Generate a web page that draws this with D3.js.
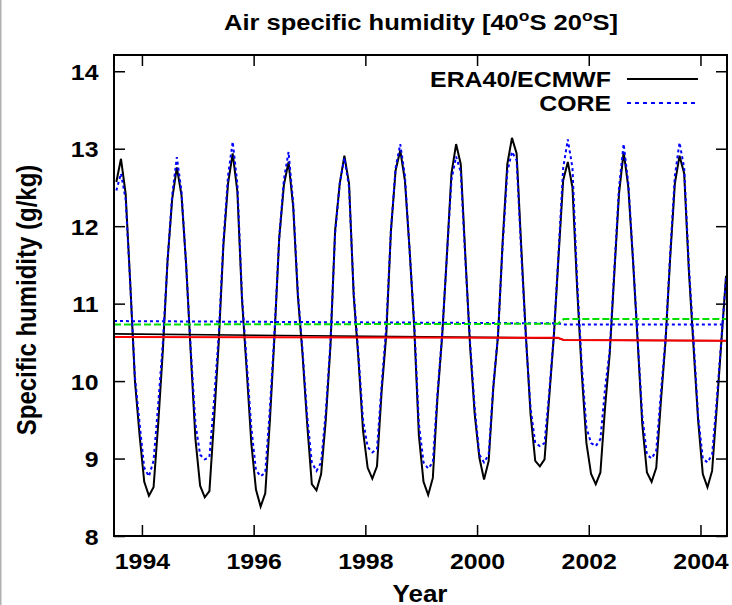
<!DOCTYPE html>
<html>
<head>
<meta charset="utf-8">
<script src="https://cdn.jsdelivr.net/npm/d3@7"></script>
<style>
  html, body { margin: 0; padding: 0; background: #fff; }
  svg { display: block; font-family: "Liberation Sans", Arial, Helvetica, sans-serif; font-weight: bold; }
</style>
</head>
<body>
<svg id="chart" width="732" height="605"></svg>
<script>
// monthly series, Jul 1993 .. Jun 2004 (one row per calendar year)
var startYear = 1993;
var startMonth = 7;

var eraValues = [
    12.57, 12.87, 12.42, 11.25, 10.00, 9.30,                                       // 1993
    8.70, 8.52, 8.63, 9.45, 10.40, 11.55, 12.35, 12.76, 12.40, 11.50, 10.35, 9.25,   // 1994
    8.65, 8.50, 8.58, 9.50, 10.50, 11.75, 12.55, 12.94, 12.45, 11.05, 10.15, 9.20,   // 1995
    8.60, 8.38, 8.55, 9.50, 10.60, 11.85, 12.53, 12.83, 12.25, 11.10, 10.35, 9.45,   // 1996
    8.67, 8.59, 8.80, 9.50, 10.45, 11.94, 12.55, 12.91, 12.55, 11.10, 10.30, 9.36,   // 1997
    8.88, 8.74, 8.90, 9.87, 10.60, 11.94, 12.72, 12.98, 12.59, 11.70, 10.70, 9.30,   // 1998
    8.70, 8.53, 8.75, 9.79, 10.58, 11.60, 12.68, 13.06, 12.80, 11.60, 10.45, 9.57,   // 1999
    9.01, 8.73, 8.97, 9.92, 10.58, 11.80, 12.80, 13.14, 12.94, 11.73, 10.58, 9.57,   // 2000
    8.97, 8.90, 8.99, 9.79, 10.58, 11.60, 12.59, 12.83, 12.50, 11.20, 10.10, 9.20,   // 2001
    8.80, 8.67, 8.82, 9.66, 10.35, 11.40, 12.42, 12.96, 12.50, 11.56, 10.52, 9.44,   // 2002
    8.82, 8.70, 8.88, 9.74, 10.52, 11.60, 12.55, 12.91, 12.68, 11.43, 10.45, 9.49,   // 2003
    8.80, 8.63, 8.84, 9.66, 10.52, 11.36                                            // 2004
];

var coreValues = [
    12.46, 12.68, 12.35, 11.25, 10.05, 9.45,                                       // 1993
    8.88, 8.77, 8.97, 9.70, 10.50, 11.55, 12.40, 12.89, 12.45, 11.50, 10.40, 9.45,   // 1994
    9.05, 8.99, 9.02, 9.75, 10.60, 11.80, 12.65, 13.09, 12.55, 11.10, 10.25, 9.40,   // 1995
    8.85, 8.77, 8.82, 9.65, 10.65, 11.85, 12.60, 12.96, 12.30, 11.15, 10.40, 9.55,   // 1996
    8.95, 8.84, 8.95, 9.60, 10.50, 11.90, 12.55, 12.88, 12.50, 11.15, 10.35, 9.50,   // 1997
    9.15, 9.08, 9.12, 9.95, 10.70, 11.95, 12.75, 13.06, 12.65, 11.70, 10.75, 9.45,   // 1998
    8.95, 8.87, 8.95, 9.85, 10.60, 11.60, 12.60, 12.90, 12.70, 11.55, 10.50, 9.65,   // 1999
    9.05, 8.95, 9.05, 9.95, 10.60, 11.75, 12.70, 12.96, 12.85, 11.65, 10.55, 9.65,   // 2000
    9.20, 9.16, 9.20, 9.85, 10.60, 11.65, 12.75, 13.12, 12.75, 11.30, 10.20, 9.40,   // 2001
    9.20, 9.16, 9.25, 9.90, 10.40, 11.45, 12.50, 13.06, 12.55, 11.60, 10.55, 9.55,   // 2002
    9.05, 9.00, 9.10, 9.85, 10.55, 11.65, 12.65, 13.08, 12.75, 11.50, 10.55, 9.55,   // 2003
    9.00, 8.95, 9.05, 9.75, 10.55, 11.34                                            // 2004
];

// mean levels (horizontal lines), given at these times
var meanTimes  = [1993.5, 2001.45, 2001.55, 2004.5];
var eraMean    = [10.61, 10.555, 10.53, 10.52];
var coreMean   = [10.775, 10.745, 10.73, 10.73];
var greenMean  = [10.73, 10.74, 10.80, 10.80];
var redMean    = [10.57, 10.56, 10.53, 10.52];

var xTicks = [1994, 1996, 1998, 2000, 2002, 2004];
var yTicks = [8, 9, 10, 11, 12, 13, 14];

var legendLabels = ['ERA40/ECMWF', 'CORE'];

// gnuplot output looks horizontally stretched
var stretch = 1.13;

function monthly(values) {
    return values.map(function(v, i) {
        return { t: startYear + (startMonth - 1 + i + 0.5) / 12, v: v };
    });
}

function steps(times, values) {
    return times.map(function(t, i) {
        return { t: t, v: values[i] };
    });
}

var svg = d3.select('#chart');

// thin grey border on the left edge of the picture
svg.append('line')
    .attr('x1', 0.75).attr('x2', 0.75)
    .attr('y1', 0).attr('y2', 605)
    .style('stroke', '#b0b0b0')
    .style('stroke-width', 1.5);

var plotLeft = 114, plotRight = 727, plotTop = 55, plotBottom = 536;

var xScale = d3.scaleLinear()
    .domain([1993.5, 2004.475])
    .range([plotLeft, plotRight]);

var yScale = d3.scaleLinear()
    .domain([8, 14.21])
    .range([plotBottom, plotTop]);

svg.append('clipPath')
    .attr('id', 'plot-clip')
    .append('rect')
    .attr('x', plotLeft).attr('y', plotTop)
    .attr('width', plotRight - plotLeft).attr('height', plotBottom - plotTop);

var line = d3.line()
    .x(function(d) { return xScale(d.t); })
    .y(function(d) { return yScale(d.v); });

var plot = svg.append('g').attr('clip-path', 'url(#plot-clip)');

// series, drawn in gnuplot order
var layers = [
    { data: monthly(eraValues),            color: '#000000', dash: null,  width: 2 },
    { data: monthly(coreValues),           color: '#0000ff', dash: '3,3', width: 2 },
    { data: steps(meanTimes, eraMean),     color: '#000000', dash: null,  width: 1.6 },
    { data: steps(meanTimes, coreMean),    color: '#0000ff', dash: '3,3', width: 2 },
    { data: steps(meanTimes, greenMean),   color: '#00e000', dash: '7,3', width: 2 },
    { data: steps(meanTimes, redMean),     color: '#ff0000', dash: null,  width: 2 }
];

layers.forEach(function(l) {
    plot.append('path')
        .datum(l.data)
        .attr('d', line)
        .style('fill', 'none')
        .style('stroke', l.color)
        .style('stroke-width', l.width)
        .style('stroke-dasharray', l.dash)
        .style('stroke-linejoin', 'miter');
});

// Axes (ticks point inwards on all four sides)
var gx = svg.append('g')
    .attr('transform', 'translate(0,' + plotBottom + ')')
    .call(d3.axisBottom(xScale).tickValues(xTicks).tickSize(-11).tickFormat(d3.format('d')));

gx.selectAll('text')
    .attr('y', 0).attr('dy', 0)
    .attr('transform', 'translate(0,33) scale(' + stretch + ',1)');

svg.append('g')
    .attr('transform', 'translate(0,' + plotTop + ')')
    .call(d3.axisTop(xScale).tickValues(xTicks).tickSize(-11).tickFormat(''));

var gy = svg.append('g')
    .attr('transform', 'translate(' + plotLeft + ',0)')
    .call(d3.axisLeft(yScale).tickValues(yTicks).tickSize(-11).tickFormat(d3.format('d')));

gy.selectAll('text')
    .attr('x', 0).attr('dy', 0)
    .attr('transform', 'translate(-15.5,8) scale(' + stretch + ',1)');

svg.append('g')
    .attr('transform', 'translate(' + plotRight + ',0)')
    .call(d3.axisRight(yScale).tickValues(yTicks).tickSize(-11).tickFormat(''));

svg.selectAll('.domain').remove();
svg.selectAll('.tick line').style('stroke', '#000').style('stroke-width', 1.5);
svg.selectAll('.tick text')
    .style('font-family', '"Liberation Sans", Arial, sans-serif')
    .style('font-weight', 'bold')
    .style('font-size', '22px')
    .style('fill', '#000');

// frame
svg.append('rect')
    .attr('x', plotLeft).attr('y', plotTop)
    .attr('width', plotRight - plotLeft).attr('height', plotBottom - plotTop)
    .style('fill', 'none')
    .style('stroke', '#000')
    .style('stroke-width', 2);

// Title
var title = svg.append('text')
    .attr('transform', 'translate(421,30) scale(1.16,1)')
    .attr('text-anchor', 'middle')
    .style('font-size', '22px');
title.append('tspan').text('Air specific humidity [40');
title.append('tspan').attr('dy', -9).style('font-size', '15px').text('o');
title.append('tspan').attr('dy', 9).text('S 20');
title.append('tspan').attr('dy', -9).style('font-size', '15px').text('o');
title.append('tspan').attr('dy', 9).text('S]');

// Axis labels
svg.append('text')
    .attr('transform', 'translate(420,602) scale(' + stretch + ',1)')
    .attr('text-anchor', 'middle')
    .style('font-size', '23px')
    .text('Year');

svg.append('text')
    .attr('transform', 'translate(36,300) scale(' + stretch + ',1) rotate(-90)')
    .attr('text-anchor', 'middle')
    .style('font-size', '24px')
    .text('Specific humidity (g/kg)');

// Legend
var legend = svg.append('g');
[{ y: 79, color: '#000000', dash: null }, { y: 103, color: '#0000ff', dash: '4,4' }].forEach(function(d, i) {
    legend.append('text')
        .attr('transform', 'translate(611,' + (d.y + 8) + ') scale(' + stretch + ',1)')
        .attr('text-anchor', 'end')
        .style('font-size', '22px')
        .text(legendLabels[i]);
    legend.append('line')
        .attr('x1', 627).attr('x2', 698)
        .attr('y1', d.y).attr('y2', d.y)
        .style('stroke', d.color)
        .style('stroke-width', 2)
        .style('stroke-dasharray', d.dash);
});
</script>
</body>
</html>
